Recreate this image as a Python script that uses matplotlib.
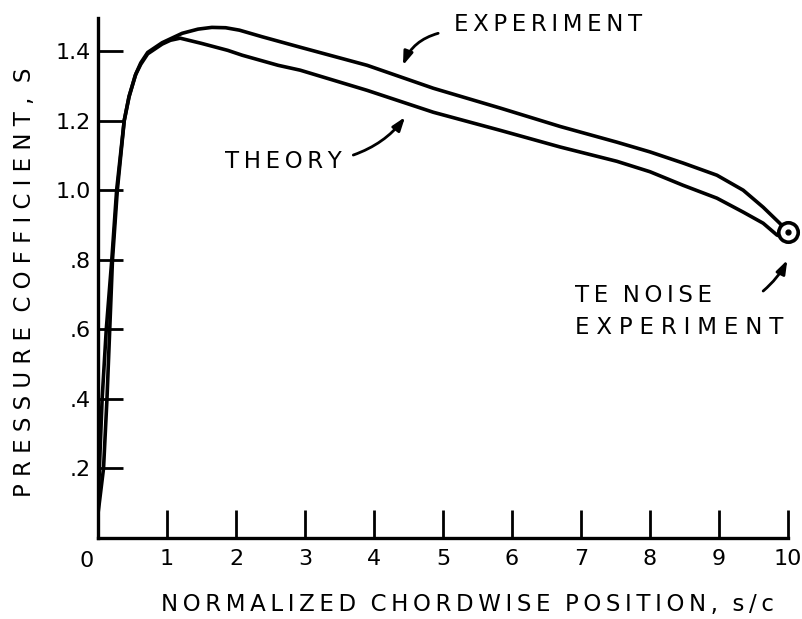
import matplotlib
matplotlib.use("Agg")
import matplotlib.pyplot as plt

# Chordwise pressure distribution: theory vs. experiment
theory_s = [0.0, 0.08, 0.13, 0.17, 0.21, 0.28, 0.38, 0.45, 0.54, 0.62, 0.72, 0.93, 1.05,
            1.19, 1.50, 1.88, 2.09, 2.61, 2.93, 3.90, 4.86, 5.83, 6.70,
            7.52, 8.00, 8.48, 8.97, 9.35, 9.64, 9.84, 9.96]
theory_cp = [0.07, 0.20, 0.40, 0.60, 0.80, 1.00, 1.20, 1.268, 1.33, 1.362, 1.392, 1.420, 1.431,
             1.437, 1.422, 1.402, 1.388, 1.359, 1.345, 1.287, 1.224, 1.172, 1.124,
             1.083, 1.053, 1.014, 0.977, 0.937, 0.905, 0.871, 0.862]

experiment_s = [0.0, 0.02, 0.06, 0.12, 0.20, 0.27, 0.38, 0.45, 0.55, 0.62, 0.72, 0.93, 1.22,
                1.45, 1.65, 1.85, 2.05, 2.38, 2.93, 3.90, 4.86, 5.83, 6.70, 7.52,
                8.00, 8.48, 8.97, 9.35, 9.64, 9.88, 10.0]
experiment_cp = [0.07, 0.20, 0.40, 0.60, 0.80, 1.00, 1.20, 1.27, 1.335, 1.366, 1.396, 1.424, 1.451,
                 1.463, 1.468, 1.467, 1.460, 1.441, 1.411, 1.359, 1.293, 1.236, 1.183, 1.138,
                 1.110, 1.078, 1.043, 1.000, 0.951, 0.905, 0.879]

# Trailing-edge noise measurement
te_noise_s = [10.0]
te_noise_cp = [0.879]

x_ticks = [1, 2, 3, 4, 5, 6, 7, 8, 9, 10]
x_tick_labels = ["1", "2", "3", "4", "5", "6", "7", "8", "9", "10"]
y_ticks = [0.2, 0.4, 0.6, 0.8, 1.0, 1.2, 1.4]
y_tick_labels = [".2", ".4", ".6", ".8", "1.0", "1.2", "1.4"]

THIN = "\u2009"


def spaced(text, gap=THIN):
    """Letter-spaced lettering in the style of drafting stencils."""
    return "  ".join(gap.join(word) for word in text.split(" "))


plt.rcParams["font.family"] = ["DejaVu Sans"]
FS = 16.5
TICK_FS = 16
LW = 2.6

fig = plt.figure(figsize=(8.03, 6.19), dpi=100)
ax = fig.add_axes([98 / 803, 1 - 538 / 619, 690 / 803, 520 / 619])
ax.set_xlim(0, 10)
ax.set_ylim(0, 1.495)

ax.plot(theory_s, theory_cp, color="black", lw=LW, solid_capstyle="round",
        solid_joinstyle="round")
ax.plot(experiment_s, experiment_cp, color="black", lw=LW, solid_capstyle="round",
        solid_joinstyle="round")
ax.plot(te_noise_s, te_noise_cp, marker="o", ms=14, mfc="white", mec="black",
        mew=2.6, ls="none", zorder=5, clip_on=False)
ax.plot(te_noise_s, te_noise_cp, marker="o", ms=3.5, color="black", ls="none",
        zorder=6, clip_on=False)

# Axes frame: left and bottom only
for side in ("top", "right"):
    ax.spines[side].set_visible(False)
for side in ("left", "bottom"):
    ax.spines[side].set_linewidth(2.4)
    ax.spines[side].set_capstyle("projecting")

ax.set_xticks(x_ticks)
ax.set_xticklabels(x_tick_labels, fontsize=TICK_FS)
ax.set_yticks(y_ticks)
ax.set_yticklabels(y_tick_labels, fontsize=TICK_FS)
ax.tick_params(axis="x", direction="in", length=20, width=2.0, pad=8)
ax.tick_params(axis="y", direction="in", length=18, width=2.0, pad=5)
ax.text(-0.17, -0.036, "0", fontsize=TICK_FS, ha="center", va="top")

arrow_kw = dict(arrowstyle="-|>,head_length=0.8,head_width=0.28",
                color="black", lw=2.0, shrinkA=0, shrinkB=0)

# Annotations
ax.text(6.52, 1.477, spaced("EXPERIMENT"), fontsize=FS, ha="center", va="center")
ax.annotate("", xy=(4.42, 1.359), xytext=(4.93, 1.451),
            arrowprops=dict(connectionstyle="arc3,rad=0.25", **arrow_kw))

ax.text(2.68, 1.083, spaced("THEORY"), fontsize=FS, ha="center", va="center")
ax.annotate("", xy=(4.45, 1.21), xytext=(3.70, 1.101),
            arrowprops=dict(connectionstyle="arc3,rad=0.15", **arrow_kw))

ax.text(6.92, 0.698, spaced("TE NOISE"), fontsize=FS, ha="left", va="center")
ax.text(6.92, 0.606, spaced("EXPERIMENT", THIN + "\u200a"), fontsize=FS,
        ha="left", va="center")
ax.annotate("", xy=(9.99, 0.799), xytext=(9.64, 0.710),
            arrowprops=dict(connectionstyle="arc3,rad=0.1", **arrow_kw))

fig.text(467 / 803, 1 - 604 / 619, spaced("NORMALIZED CHORDWISE POSITION, s/c"),
         fontsize=FS, ha="center", va="center")
fig.text(25 / 803, 1 - 282 / 619, spaced("PRESSURE COFFICIENT, S", " "),
         fontsize=FS, ha="center", va="center", rotation=90)

fig.savefig("out.png", dpi=100, facecolor="white")
